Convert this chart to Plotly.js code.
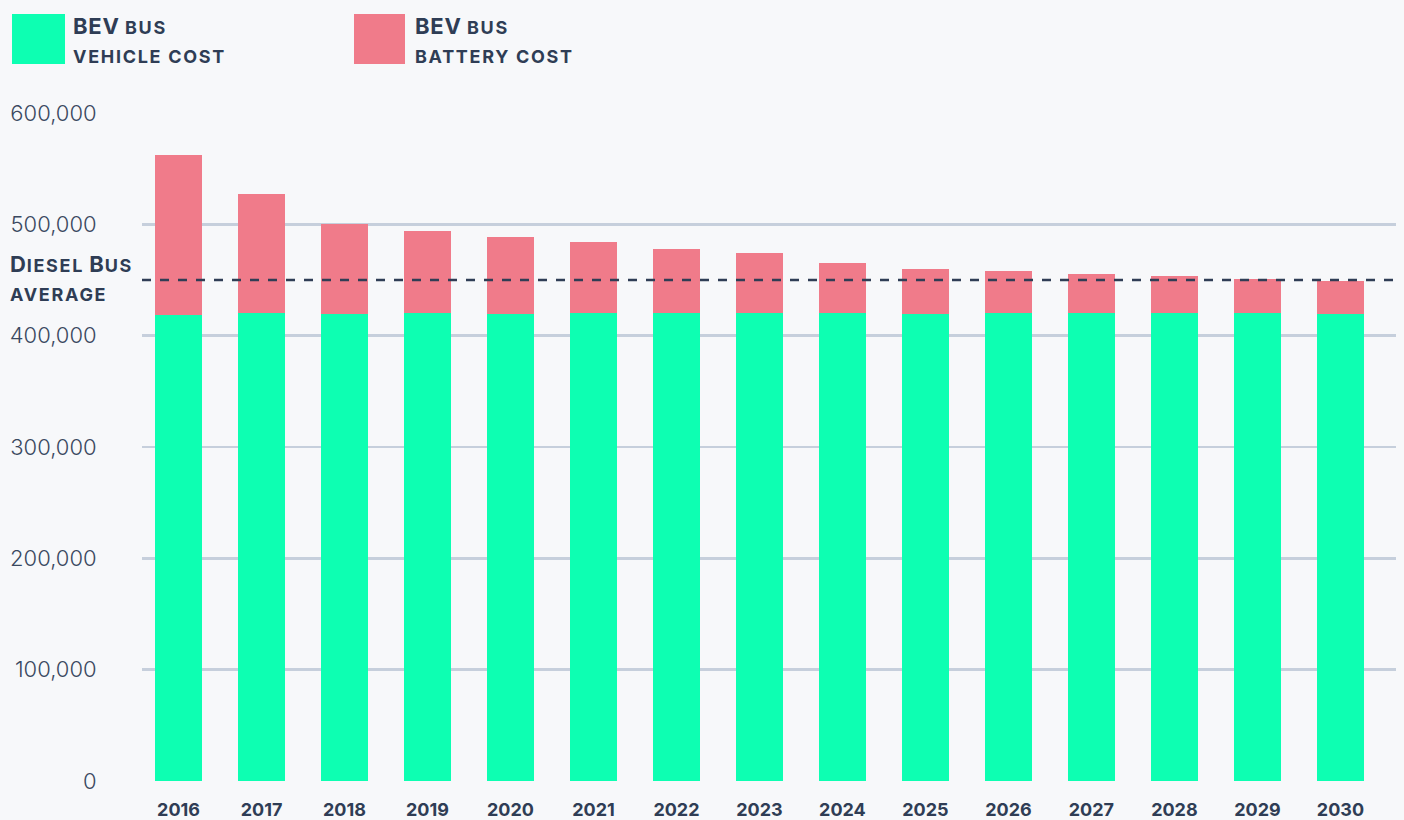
<!DOCTYPE html>
<html>
<head>
<meta charset="utf-8">
<script src="https://cdn.plot.ly/plotly-3.0.1.min.js"></script>
<style>
  html, body { margin: 0; padding: 0; background: #f7f8fa; }
  #chart { width: 1404px; height: 820px; }
</style>
</head>
<body>
<div id="chart"></div>
<script>
// ---- data ----
const years = ["2016","2017","2018","2019","2020","2021","2022","2023","2024","2025","2026","2027","2028","2029","2030"];
const vehicleCost = [418500, 420000, 419500, 420000, 419500, 420000, 420000, 420000, 420000, 419500, 420000, 420000, 420000, 420000, 419500];
const totalCost   = [562000, 527000, 500000, 494000, 488500, 484000, 477700, 474000, 465000, 459800, 458000, 455300, 453600, 450900, 449100];
const batteryCost = totalCost.map((t, i) => t - vehicleCost[i]);
const dieselAverage = 450000;
const yTicks = [0, 100000, 200000, 300000, 400000, 500000, 600000];

// ---- style ----
const GREEN = "#0dffb2";
const PINK = "#f07b8a";
const DARK = "#2f3d55";
const GRID = "#c6cfdc";
const BG = "#f7f8fa";
const FONT = "Inter, Lato, sans-serif";

const W = 1404, H = 820;
const L = 142, R = 1396, T = 113, B = 781;
const px = x => (x - L) / (R - L);
const py = y => (B - y) / (B - T);

const traces = [
  { type: "bar", x: years, y: vehicleCost, name: "BEV bus vehicle cost",
    marker: { color: GREEN }, width: 0.566, hoverinfo: "x+y" },
  { type: "bar", x: years, y: batteryCost, name: "BEV bus battery cost",
    marker: { color: PINK }, width: 0.566, hoverinfo: "x+y" }
];

const big = 22, small = 18;
const sm = "<span style='font-size:" + small + "px;letter-spacing:1.7px;'>";
const lg = "<span style='letter-spacing:0.8px;'>";
const layout = {
  width: W, height: H,
  paper_bgcolor: BG, plot_bgcolor: BG,
  barmode: "stack",
  showlegend: false,
  margin: { l: L, r: W - R, t: T, b: H - B },
  font: { family: FONT, color: DARK },
  xaxis: {
    type: "category",
    range: [-0.44, 14.67],
    showgrid: false, zeroline: false, showline: false,
    ticks: "outside", ticklen: 12, tickcolor: "rgba(0,0,0,0)",
    tickfont: { family: FONT, size: 18, color: DARK, weight: 700 },
    fixedrange: true
  },
  yaxis: {
    range: [0, 600000],
    tickvals: yTicks,
    tickformat: ",",
    showgrid: true, gridcolor: GRID, gridwidth: 2.5,
    zeroline: false, showline: false,
    ticks: "outside", ticklen: 40, tickcolor: "rgba(0,0,0,0)",
    tickfont: { family: FONT, size: 22, color: "#3a4860", weight: 300 },
    fixedrange: true
  },
  shapes: [
    { type: "line", xref: "paper", yref: "y", x0: 0, x1: 1, y0: dieselAverage, y1: dieselAverage,
      line: { color: DARK, width: 2.5, dash: "dash" } },
    { type: "rect", xref: "paper", yref: "paper", x0: px(12), x1: px(65), y0: py(14), y1: py(64),
      fillcolor: GREEN, line: { width: 0 } },
    { type: "rect", xref: "paper", yref: "paper", x0: px(354), x1: px(405), y0: py(14), y1: py(64),
      fillcolor: PINK, line: { width: 0 } }
  ],
  annotations: [
    { xref: "paper", yref: "paper", x: px(71), y: py(26), xanchor: "left", yanchor: "middle",
      showarrow: false, font: { size: big, color: DARK, weight: 700 },
      text: lg + "BEV</span> " + sm + "BUS</span>" },
    { xref: "paper", yref: "paper", x: px(71), y: py(56), xanchor: "left", yanchor: "middle",
      showarrow: false, font: { size: small, color: DARK, weight: 700 },
      text: sm + "VEHICLE COST</span>" },
    { xref: "paper", yref: "paper", x: px(413), y: py(26), xanchor: "left", yanchor: "middle",
      showarrow: false, font: { size: big, color: DARK, weight: 700 },
      text: lg + "BEV</span> " + sm + "BUS</span>" },
    { xref: "paper", yref: "paper", x: px(413), y: py(56), xanchor: "left", yanchor: "middle",
      showarrow: false, font: { size: small, color: DARK, weight: 700 },
      text: sm + "BATTERY COST</span>" },
    { xref: "paper", yref: "paper", x: px(8), y: py(264), xanchor: "left", yanchor: "middle",
      showarrow: false, font: { size: big, color: DARK, weight: 700 },
      text: lg + "D</span>" + sm + "IESEL</span> " + lg + "B</span>" + sm + "US</span>" },
    { xref: "paper", yref: "paper", x: px(8), y: py(294), xanchor: "left", yanchor: "middle",
      showarrow: false, font: { size: small, color: DARK, weight: 700 },
      text: sm + "AVERAGE</span>" }
  ]
};

Plotly.newPlot("chart", traces, layout, { displayModeBar: false, staticPlot: true });
</script>
</body>
</html>
